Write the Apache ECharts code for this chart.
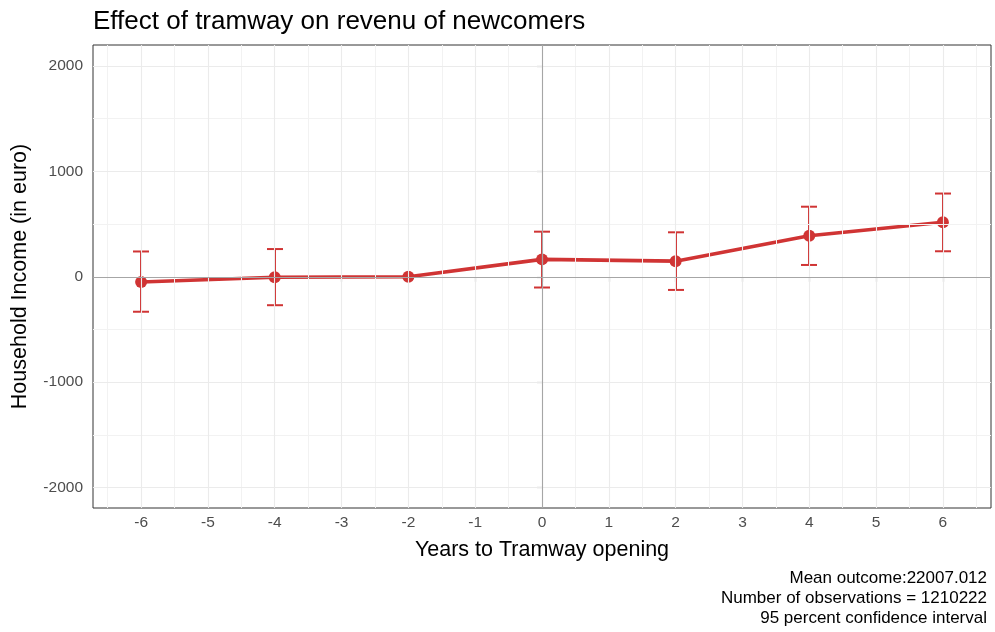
<!DOCTYPE html>
<html>
<head>
<meta charset="utf-8">
<script src="https://cdn.jsdelivr.net/npm/echarts@6/dist/echarts.min.js"></script>
<style>html,body{margin:0;padding:0;background:#fff}#c{width:995px;height:632px}</style>
</head>
<body>
<div id="c"></div>
<script>
const years = [-6, -4, -2, 0, 2, 4, 6];
const estimate = [-50, -5, 0, 165, 148, 389, 517];
const ciLow = [-332, -270, null, -102, -125, 112, 242];
const ciHigh = [240, 263, null, 428, 422, 665, 790];
const xTicks = [-6, -5, -4, -3, -2, -1, 0, 1, 2, 3, 4, 5, 6];
const xMinor = [-6.5, -5.5, -4.5, -3.5, -2.5, -1.5, -0.5, 0.5, 1.5, 2.5, 3.5, 4.5, 5.5, 6.5];
const yTicks = [-2000, -1000, 0, 1000, 2000];
const yMinor = [-1500, -500, 500, 1500];
const captionLines = ['Mean outcome:22007.012', 'Number of observations = 1210222', '95 percent confidence interval'];

const FONT = '"Liberation Sans", Arial, sans-serif';
const RED = '#d03434';

const chart = echarts.init(document.getElementById('c'), null, {renderer: 'canvas'});

const gridLines = [];
xMinor.forEach(v => gridLines.push({xAxis: v, lineStyle: {color: '#f2f2f2', width: 1, type: 'solid'}}));
yMinor.forEach(v => gridLines.push({yAxis: v, lineStyle: {color: '#f2f2f2', width: 1, type: 'solid'}}));
xTicks.forEach(v => gridLines.push({xAxis: v, lineStyle: {color: '#ebebeb', width: 1.1, type: 'solid'}}));
yTicks.forEach(v => gridLines.push({yAxis: v, lineStyle: {color: '#ebebeb', width: 1.1, type: 'solid'}}));

const zeroLines = [
  {xAxis: 0, lineStyle: {color: '#a6a6a6', width: 1.1, type: 'solid'}},
  {yAxis: 0, lineStyle: {color: '#a6a6a6', width: 1.1, type: 'solid'}}
];

const errData = years.map((y, i) => [y, ciLow[i], ciHigh[i]]).filter(d => d[1] !== null);

chart.setOption({
  animation: false,
  backgroundColor: '#fff',
  title: {
    text: 'Effect of tramway on revenu of newcomers',
    left: 88, top: 4,
    textStyle: {fontFamily: FONT, fontSize: 26, fontWeight: 'normal', color: '#000'}
  },
  grid: {left: 93, right: 4, top: 45, bottom: 124, show: true, borderColor: '#333', borderWidth: 1, backgroundColor: 'transparent'},
  xAxis: {
    type: 'value', min: -6.72, max: 6.72,
    name: 'Years to Tramway opening', nameLocation: 'middle', nameGap: 31,
    nameTextStyle: {fontFamily: FONT, fontSize: 21.5, color: '#000'},
    axisLine: {show: false},
    axisTick: {show: true, length: 5, lineStyle: {color: '#333', width: 1.1}, customValues: xTicks},
    axisLabel: {customValues: xTicks, fontFamily: FONT, fontSize: 15.5, color: '#4d4d4d', margin: 7},
    splitLine: {show: false}
  },
  yAxis: {
    type: 'value', min: -2195, max: 2200,
    name: 'Household Income (in euro)', nameLocation: 'middle', nameGap: 62,
    nameTextStyle: {fontFamily: FONT, fontSize: 21.5, color: '#000'},
    axisLine: {show: false},
    axisTick: {show: true, length: 5, lineStyle: {color: '#333', width: 1.1}, customValues: yTicks},
    axisLabel: {customValues: yTicks, formatter: v => String(v), fontFamily: FONT, fontSize: 15.5, color: '#4d4d4d', margin: 10},
    splitLine: {show: false}
  },
  graphic: captionLines.map((t, i) => ({
    type: 'text', right: 8, top: 570 + i * 20,
    style: {text: t, fontFamily: FONT, fontSize: 17, fill: '#000', textAlign: 'right'}
  })),
  series: [
    {
      type: 'line', data: [], z: 1, silent: true,
      markLine: {silent: true, symbol: ['none', 'none'], label: {show: false}, animation: false, data: gridLines}
    },
    {
      type: 'line', data: [], z: 2, silent: true,
      markLine: {silent: true, symbol: ['none', 'none'], label: {show: false}, animation: false, data: zeroLines}
    },
    {
      type: 'custom', z: 3, silent: true,
      data: errData,
      renderItem: function (params, api) {
        const x = api.value(0);
        const lo = api.coord([x, api.value(1)]);
        const hi = api.coord([x, api.value(2)]);
        const cx = Math.round(lo[0]);
        const hw = api.size([0.24, 0])[0] / 2;
        const st = {stroke: RED, lineWidth: 2};
        return {
          type: 'group',
          children: [
            {type: 'line', shape: {x1: cx, y1: lo[1], x2: cx, y2: hi[1]}, style: st},
            {type: 'line', shape: {x1: cx - hw, y1: lo[1], x2: cx + hw, y2: lo[1]}, style: st},
            {type: 'line', shape: {x1: cx - hw, y1: hi[1], x2: cx + hw, y2: hi[1]}, style: st}
          ]
        };
      }
    },
    {
      type: 'line', z: 4,
      data: years.map((y, i) => [y, estimate[i]]),
      symbol: 'circle', symbolSize: 12,
      lineStyle: {color: RED, width: 3.6},
      itemStyle: {color: RED, borderWidth: 0},
      emphasis: {disabled: true}
    }
  ]
});
</script>
</body>
</html>
